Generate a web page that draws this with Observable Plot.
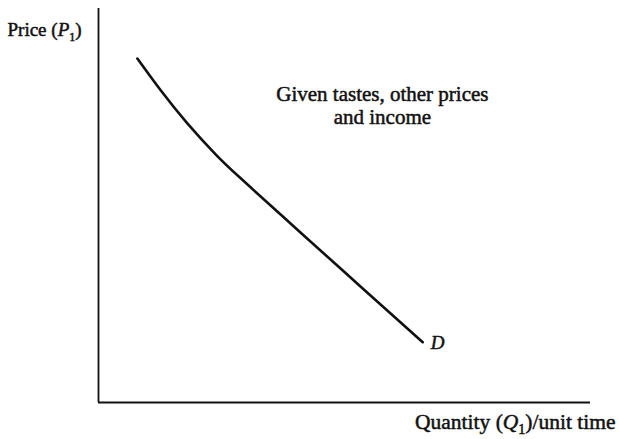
<!DOCTYPE html>
<html><head><meta charset="utf-8">
<script src="https://cdn.jsdelivr.net/npm/d3@7"></script>
<script src="https://cdn.jsdelivr.net/npm/@observablehq/plot@0.6"></script>
<style>body{margin:0;background:#fff} svg{display:block}</style>
</head><body><div id="chart"></div>
<script>
// Demand curve D (quantity, price) in arbitrary units
const quantity = [7.9, 12.6, 18.1, 23.8, 28.9, 41.1, 53.3, 65.9];
const price    = [87.3, 79.3, 70.8, 63.0, 56.9, 43.1, 29.4, 15.3];
const curveLabel = "D";
const yLabel = "Price (P1)";
const xLabel = "Quantity (Q1)/unit time";
const noteText = "Given tastes, other prices\nand income";
const noteQ = [57.7];
const noteP = [75.4];

const demand = quantity.map((q, i) => ({q, p: price[i]}));
const last = demand[demand.length - 1];
const font = "'Liberation Serif', 'Times New Roman', serif";
const ink = "#111";
const textStroke = 0.5;

const chart = Plot.plot({
  width: 619, height: 439,
  marginLeft: 98, marginRight: 29, marginTop: 8, marginBottom: 37,
  x: {domain: [0, 100], axis: null},
  y: {domain: [0, 100], axis: null},
  style: {fontFamily: font, background: "#fff", color: ink},
  marks: [
    Plot.ruleX([0], {stroke: ink, strokeWidth: 1.8}),
    Plot.ruleY([0], {stroke: ink, strokeWidth: 1.8}),
    Plot.line(demand, {x: "q", y: "p", curve: "natural", stroke: ink, strokeWidth: 2.6}),
    Plot.text([last], {x: "q", y: "p", text: () => curveLabel, textAnchor: "start", dx: 8, dy: 1,
      fontSize: 19, fontStyle: "italic", fill: ink, stroke: ink, strokeWidth: textStroke}),
    Plot.text([0], {x: () => noteQ[0], y: () => noteP[0], text: () => noteText, textAnchor: "middle",
      lineAnchor: "middle", lineHeight: 1.1, fontSize: 21, fill: ink, stroke: ink, strokeWidth: textStroke}),
    Plot.text([yLabel], {frameAnchor: "top-left", textAnchor: "start", lineAnchor: "middle",
      dx: -91, dy: 21.5, fontSize: 19, fill: ink, stroke: ink, strokeWidth: textStroke}),
    Plot.text([xLabel], {frameAnchor: "bottom-right", textAnchor: "end", lineAnchor: "middle",
      dx: 25, dy: 20, fontSize: 21.5, fill: ink, stroke: ink, strokeWidth: textStroke})
  ]
});

// Italic variable with subscript 1 in axis labels
const NS = "http://www.w3.org/2000/svg";
chart.querySelectorAll("text").forEach(el => {
  const s = el.textContent;
  const m = s.match(/^(.*\()([PQ])1(\).*)$/);
  if (!m || el.children.length) return;
  const fs = parseFloat(el.getAttribute("font-size") || el.parentNode.getAttribute("font-size") || 16);
  el.textContent = "";
  const add = (txt, attrs) => {
    const t = document.createElementNS(NS, "tspan");
    t.textContent = txt;
    for (const k in attrs) t.setAttribute(k, attrs[k]);
    el.appendChild(t);
  };
  const sub = Math.round(fs * 0.65);
  const shift = Math.round(fs * 0.25);
  add(m[1], {});
  add(m[2], {"font-style": "italic"});
  add("1", {"font-size": sub, "dy": shift});
  add(m[3], {"dy": -shift});
});

document.getElementById("chart").appendChild(chart);
</script>
</body></html>
